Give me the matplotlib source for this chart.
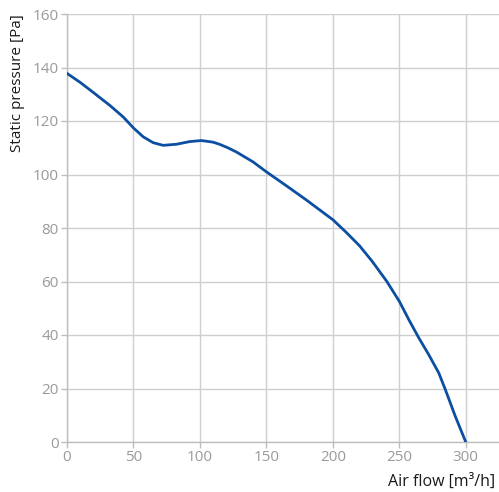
import matplotlib
matplotlib.use("Agg")
import matplotlib.pyplot as plt

air_flow = [0, 10, 19.7, 32.3, 42.3, 50, 57.3, 64.8, 72.3, 82.3, 92.3, 101, 109.8, 114.75,
            121, 127.5, 140, 150, 165, 180, 190, 200, 210, 220, 229.5, 240.5, 250, 257.2,
            264.7, 272.2, 279.7, 284.7, 292.2, 300]
pressure = [137.8, 134.4, 130.7, 125.8, 121.5, 117.4, 114.1, 111.9, 110.9, 111.3, 112.3, 112.7,
            112.1, 111.3, 110.0, 108.4, 104.7, 101.0, 95.8, 90.5, 86.8, 83.1, 78.4, 73.4, 67.6,
            60.1, 52.6, 45.7, 38.9, 32.6, 25.8, 19.5, 9.5, 0]

x_ticks = [0, 50, 100, 150, 200, 250, 300]
y_ticks = [0, 20, 40, 60, 80, 100, 120, 140, 160]

plt.rcParams['font.family'] = ['Open Sans', 'DejaVu Sans']

W, H = 499, 492
fig = plt.figure(figsize=(W / 100, H / 100), dpi=100)
ax = fig.add_axes([67 / W, (H - 442) / H, (499 - 67) / W, (442 - 14) / H])

ax.plot(air_flow, pressure, color='#0b4ea2', lw=2, solid_capstyle='round',
        solid_joinstyle='round', zorder=3)

ax.set_xlim(0, 325)
ax.set_ylim(0, 160)
ax.set_xticks(x_ticks)
ax.set_yticks(y_ticks)
ax.grid(True, color='#cfcfcf', lw=1)
ax.set_axisbelow(True)
for s in ['top', 'right']:
    ax.spines[s].set_visible(False)
for s in ['left', 'bottom']:
    ax.spines[s].set_color('#bdbdbd')
    ax.spines[s].set_linewidth(1)
ax.tick_params(colors='#bdbdbd', labelcolor='#9a9a9a', labelsize=11, length=4, width=1, pad=2)

fig.text(495 / W, 2 / H, 'Air flow [m³/h]', ha='right', va='bottom', fontsize=11.5,
         color='#1a1a1a', family=['Open Sans', 'DejaVu Sans'])
fig.text(18 / W, 1 - 14 / H, 'Static pressure [Pa]', ha='center', va='top', rotation=90,
         fontsize=11, color='#1a1a1a')

fig.savefig('out.png', dpi=100)
